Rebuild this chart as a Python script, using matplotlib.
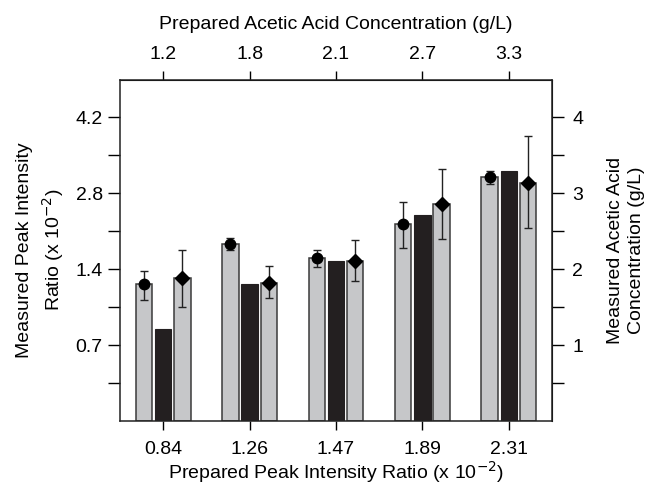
import matplotlib.pyplot as plt
import numpy as np

plt.rcParams['font.family'] = ['Liberation Sans', 'DejaVu Sans']

# data (heights in measured acetic acid units, right axis)
prepared_ratio = ['0.84', '1.26', '1.47', '1.89', '2.31']
prepared_conc = ['1.2', '1.8', '2.1', '2.7', '3.3']

peak_ratio = [1.80, 2.33, 2.15, 2.59, 3.21]
peak_ratio_lo = [1.60, 2.25, 2.03, 2.28, 3.12]
peak_ratio_hi = [1.98, 2.41, 2.26, 2.89, 3.29]

prepared = [1.21, 1.81, 2.11, 2.71, 3.30]

measured_conc = [1.88, 1.82, 2.11, 2.86, 3.14]
measured_conc_lo = [1.50, 1.62, 1.85, 2.40, 2.54]
measured_conc_hi = [2.25, 2.04, 2.39, 3.32, 3.75]

left_labels = ['0.7', '1.4', '2.8', '4.2']
right_labels = ['1', '2', '3', '4']

gray = '#c6c7c9'
dark = '#231f20'
edge = '#3a3a3a'
fs = 14

fig = plt.figure(figsize=(6.54, 4.88), dpi=100)
ax = fig.add_axes([0.1835, 0.1373, 0.6605, 0.6997])

ind = np.arange(len(prepared_ratio))
width = 0.19
off = 0.223

g1 = np.array(peak_ratio)
g2 = np.array(measured_conc)
ax.bar(ind - off, g1, width, color=gray, edgecolor=edge, linewidth=1.1, zorder=2)
ax.bar(ind, prepared, width, color=dark, edgecolor=dark, linewidth=0.8, zorder=2)
ax.bar(ind + off, g2, width, color=gray, edgecolor=edge, linewidth=1.1, zorder=2)

yerr1 = [g1 - np.array(peak_ratio_lo), np.array(peak_ratio_hi) - g1]
yerr2 = [g2 - np.array(measured_conc_lo), np.array(measured_conc_hi) - g2]
ax.errorbar(ind - off, g1, yerr=yerr1, fmt='o', color='black', ms=7.5,
            ecolor='#222222', elinewidth=1.0, capsize=2.6, capthick=1.0, zorder=3)
ax.errorbar(ind + off, g2, yerr=yerr2, fmt='D', color='black', ms=7,
            ecolor='#222222', elinewidth=1.0, capsize=2.6, capthick=1.0, zorder=3)

ax.set_xlim(-0.5, 4.5)
ax.set_ylim(0, 4.5)

ax.set_xticks(ind)
ax.set_xticklabels(prepared_ratio, fontsize=fs)
ax.set_yticks([1, 2, 3, 4])
ax.set_yticklabels(left_labels, fontsize=fs)
ax.set_yticks([0.5, 1.5, 2.5, 3.5], minor=True)
ax.tick_params(axis='x', direction='out', length=6.2, width=1, pad=8)
ax.tick_params(axis='y', which='both', direction='out', length=8.5, width=1, pad=4)

for s in ax.spines.values():
    s.set_linewidth(1.1)
    s.set_color('#222222')

ax.set_xlabel('Prepared Peak Intensity Ratio (x 10$^{-2}$)', fontsize=fs, labelpad=1)
ax.set_ylabel('Measured Peak Intensity\nRatio (x 10$^{-2}$)', fontsize=fs,
              labelpad=7, linespacing=1.35)

top = ax.secondary_xaxis('top')
top.set_xticks(ind)
top.set_xticklabels(prepared_conc, fontsize=fs)
top.tick_params(direction='out', length=6.2, width=1, pad=6)
top.set_xlabel('Prepared Acetic Acid Concentration (g/L)', fontsize=fs, labelpad=12)

right = ax.secondary_yaxis('right')
right.set_yticks([1, 2, 3, 4])
right.set_yticklabels(right_labels, fontsize=fs)
right.set_yticks([0.5, 1.5, 2.5, 3.5], minor=True)
right.tick_params(which='both', direction='out', length=8.5, width=1, pad=6)
right.set_ylabel('Measured Acetic Acid\nConcentration (g/L)', fontsize=fs,
                 labelpad=17, linespacing=1.35)

plt.savefig('out.png', dpi=100)
